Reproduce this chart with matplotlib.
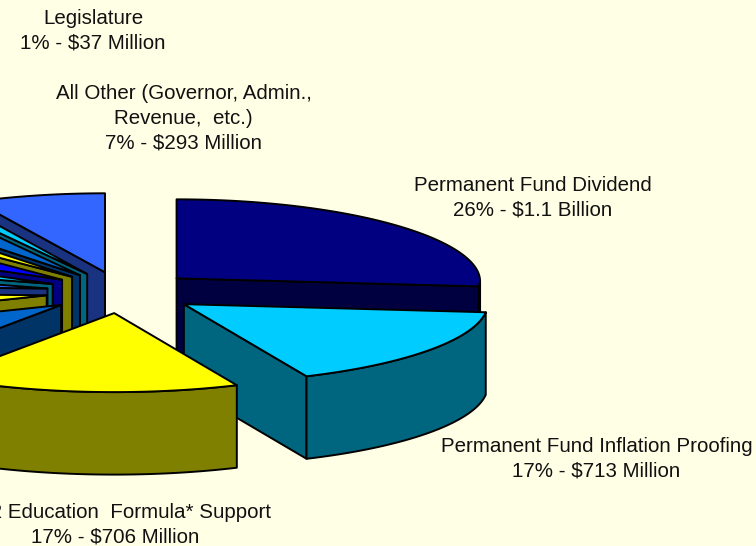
import numpy as np
import matplotlib
matplotlib.use("Agg")
import matplotlib.pyplot as plt
from matplotlib.patches import Polygon

plt.rcParams['font.family'] = ['Liberation Sans', 'DejaVu Sans']

# Data: share of the budget (percent), clockwise from 12 o'clock
slice_names = ["Permanent Fund Dividend", "Permanent Fund Inflation Proofing",
               "K-12 Education Formula Support", "Other A", "Other B", "Other C",
               "Other D", "Other E", "Other F", "Other G", "Legislature", "All Other"]
slice_shares = [26, 17, 17, 9.4, 6.7, 3.9, 3.3, 4.4, 1.7, 2.5, 1.0, 7.0]
top_colors = ["#000080", "#00CCFF", "#FFFF00", "#0066CC", "#FFFF00", "#3366FF",
              "#00CCFF", "#0000FF", "#FFFF00", "#0066CC", "#00CCFF", "#3366FF"]
side_colors = ["#000040", "#006680", "#808000", "#003366", "#808000", "#1A3380",
               "#006680", "#000080", "#808000", "#003366", "#006680", "#1A3380"]

label_lines = [
    ("Legislature\n1% - $37 Million", 93, 31),
    ("All Other (Governor, Admin.,\nRevenue,  etc.)\n7% - $293 Million", 183.5, 118.5),
    ("Permanent Fund Dividend\n26% - $1.1 Billion", 533, 198),
    ("Permanent Fund Inflation Proofing\n17% - $713 Million", 596.5, 458.5),
    ("K-12 Education  Formula* Support\n17% - $706 Million", 115, 525),
]

# Projection of the tilted pie
CX, CY = 121.5, 292.5
RX, RY = 303.5, 79.0
EX, EY = 75.5, 20.7
SAG = 3.0
FORE = 0.05
DEPTH = 82.5
BG = "#FFFFE6"


def project(theta):
    t = np.radians(theta)
    squeeze = 1 + FORE * np.minimum(np.cos(t), 0)
    return (RX * np.sin(t) * squeeze,
            -RY * np.cos(t) + SAG * np.sin(t) ** 2)


def rim(c, a, b, n=80):
    th = np.linspace(a, b, n)
    x, y = project(th)
    return np.column_stack([c[0] + x, c[1] + y])


fig = plt.figure(figsize=(7.56, 5.46), dpi=100, facecolor=BG)
ax = fig.add_axes([0, 0, 1, 1])
ax.set_xlim(0, 756)
ax.set_ylim(546, 0)
ax.axis("off")

edges = np.concatenate([[0], np.cumsum(slice_shares)]) / sum(slice_shares) * 360
LW = 1.4
KW = dict(edgecolor="black", linewidth=LW, joinstyle="round")


def draw_slice(i):
    a, b = edges[i], edges[i + 1]
    m = np.radians((a + b) / 2)
    c = (CX + EX * np.sin(m), CY - EY * np.cos(m))
    drop = np.array([0, DEPTH])
    apex = np.array(c)
    # visible cut face
    if a >= 180:
        cut = a
    elif b <= 180:
        cut = b
    else:
        cut = None
    if cut is not None:
        px, py = project(cut)
        p = apex + (px, py)
        ax.add_patch(Polygon([apex, p, p + drop, apex + drop],
                             facecolor=side_colors[i], **KW))
    # outer wall facing the viewer
    lo, hi = max(a, 90), min(b, 270)
    if lo < hi:
        top = rim(c, lo, hi)
        ax.add_patch(Polygon(np.vstack([top, (top + drop)[::-1]]),
                             facecolor=side_colors[i], **KW))
    # top face
    ax.add_patch(Polygon(np.vstack([[apex], rim(c, a, b)]),
                         facecolor=top_colors[i], **KW))


n = len(slice_shares)
for i in list(range(n - 1, 2, -1)) + [0, 1, 2]:
    draw_slice(i)

# Leader line of the Legislature label
leg = slice_names.index("Legislature")
mid = (edges[leg] + edges[leg + 1]) / 2
rad = np.radians(mid)
lx, ly = project(mid)
end = (CX + EX * np.sin(rad) + lx, CY - EY * np.cos(rad) + ly)
ax.annotate("", xy=end, xytext=(37, 61),
            arrowprops=dict(arrowstyle="-", color="black", lw=1.0, shrinkA=0, shrinkB=0))

for txt, x, y in label_lines:
    ax.text(x, y, txt, ha="center", va="center", fontsize=14.8,
            color="#111111", linespacing=1.39)

fig.savefig("out.png", dpi=100, facecolor=BG)
